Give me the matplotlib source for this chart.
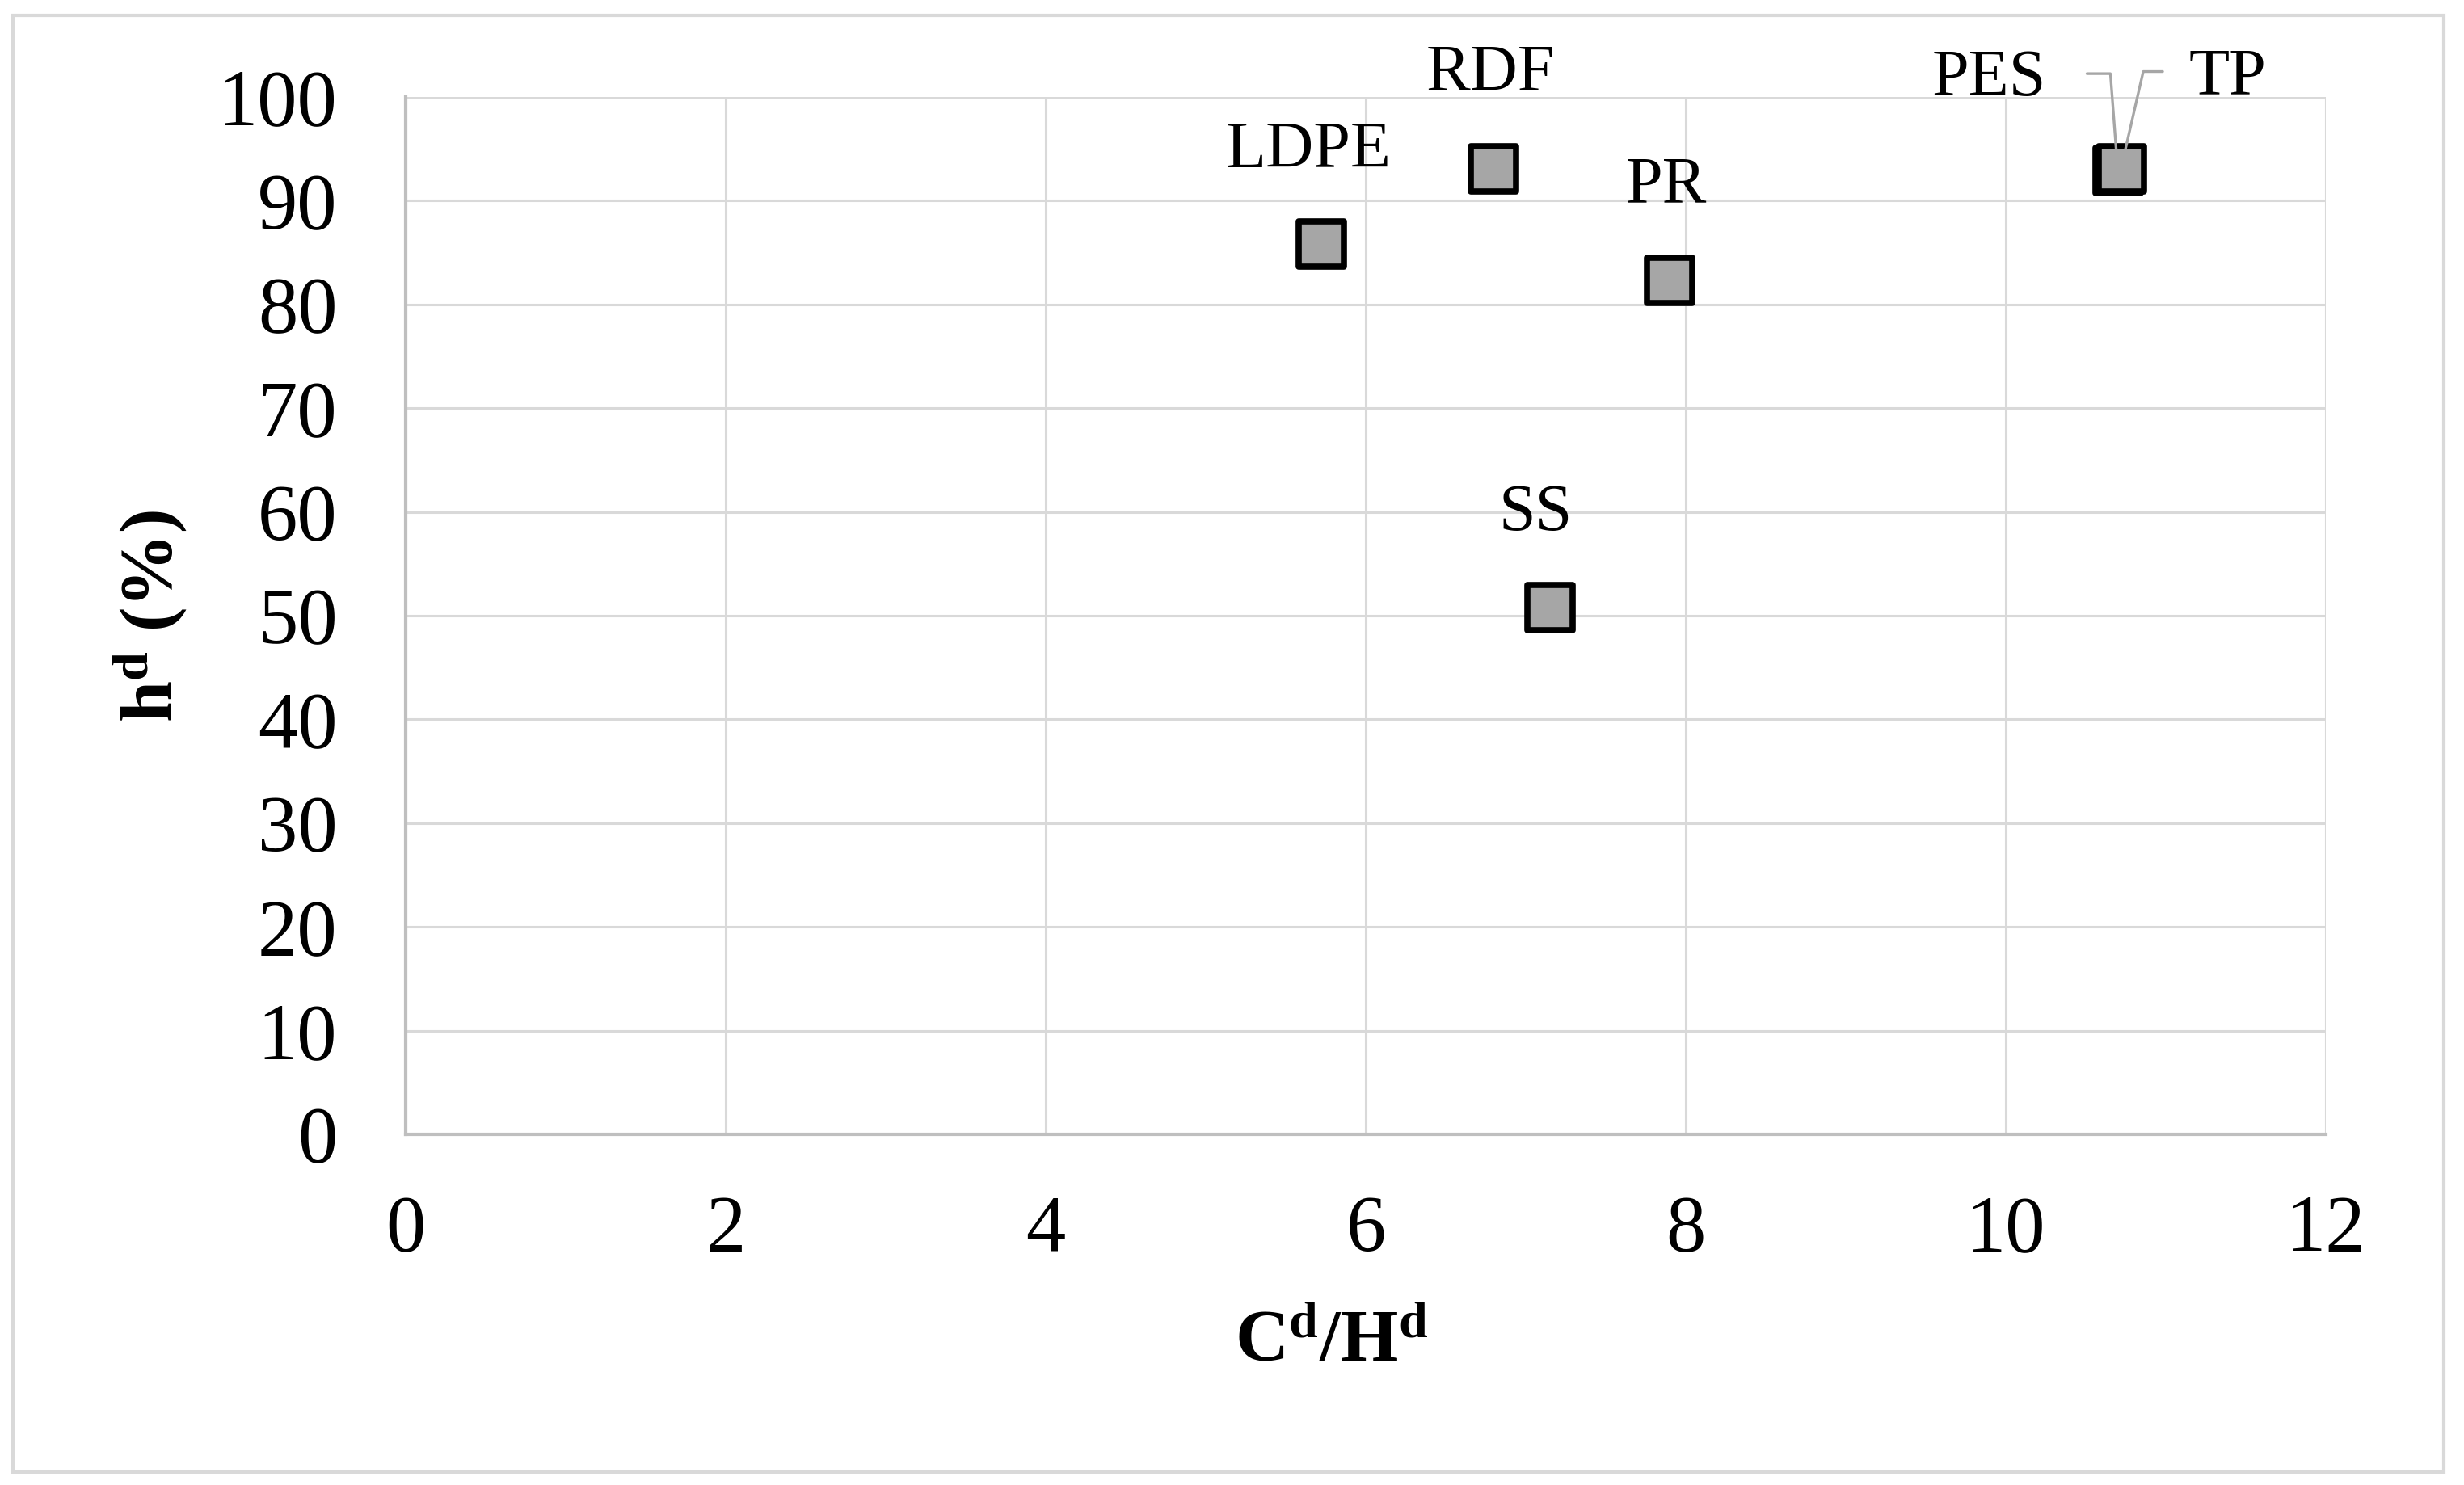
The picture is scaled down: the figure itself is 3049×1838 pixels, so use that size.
import matplotlib
matplotlib.use("Agg")
import matplotlib.pyplot as plt
from matplotlib.patches import Rectangle

# ---- data ----
labels = ["LDPE", "RDF", "PR", "SS", "PES", "TP"]
c_h = [5.72, 6.80, 7.90, 7.15, 10.70, 10.72]
h_d = [85.8, 93.1, 82.3, 50.8, 92.9, 93.1]
x_ticks = [0, 2, 4, 6, 8, 10, 12]
y_ticks = [0, 10, 20, 30, 40, 50, 60, 70, 80, 90, 100]

# label offsets in points (style)
offsets = {"LDPE": (-11, 83), "RDF": (-3, 84), "PR": (-3, 84), "SS": (-13, 83),
           "PES": (-115, 81), "TP": (95, 81)}

plt.rcParams["font.family"] = ["Liberation Serif", "DejaVu Serif"]
plt.rcParams["mathtext.fontset"] = "custom"
plt.rcParams["mathtext.rm"] = "Liberation Serif"
plt.rcParams["mathtext.bf"] = "Liberation Serif:bold"
plt.rcParams["mathtext.it"] = "Liberation Serif:italic"

fig = plt.figure(figsize=(30.49, 18.38), dpi=100)
ax = fig.add_axes([502 / 3049, 1 - 1404 / 1838, (2878 - 502) / 3049, (1404 - 120) / 1838])

# outer border
fig.patches.append(Rectangle((16 / 3049, 1 - 1822 / 1838), (3024 - 16) / 3049, (1822 - 19) / 1838,
                             transform=fig.transFigure, fill=False, edgecolor="#D9D9D9", linewidth=3))

ax.set_xlim(0, 12)
ax.set_ylim(0, 100)
ax.set_xticks(x_ticks)
ax.set_yticks(y_ticks)
ax.grid(True, color="#D9D9D9", linewidth=2.2)
ax.set_axisbelow(True)
for s in ["top", "right"]:
    ax.spines[s].set_visible(False)
for s in ["left", "bottom"]:
    ax.spines[s].set_color("#BFBFBF")
    ax.spines[s].set_linewidth(3)
ax.tick_params(axis="both", length=0, labelsize=71, colors="black")
ax.tick_params(axis="x", pad=54)
ax.tick_params(axis="y", pad=61)

ax.scatter(c_h, h_d, marker="s", s=41 ** 2, facecolor="#A6A6A6", edgecolor="black",
           linewidth=5.5, zorder=3, clip_on=False)

for lab, x, y in zip(labels, c_h, h_d):
    dx, dy = offsets[lab]
    if lab == "PES":
        ax.annotate(lab, xy=(x, y), xytext=(dx, dy), textcoords="offset points",
                    ha="center", va="center", fontsize=59, zorder=5,
                    arrowprops=dict(arrowstyle="-", color="#A6A6A6", lw=2.4,
                                    connectionstyle="arc,angleA=0,armA=29,angleB=90,armB=0,rad=0",
                                    relpos=(1.36, 0.6), shrinkA=0, shrinkB=14))
    elif lab == "TP":
        ax.annotate(lab, xy=(x, y), xytext=(dx, dy), textcoords="offset points",
                    ha="center", va="center", fontsize=59, zorder=5,
                    arrowprops=dict(arrowstyle="-", color="#A6A6A6", lw=2.4,
                                    connectionstyle="arc,angleA=180,armA=24,angleB=90,armB=0,rad=0",
                                    relpos=(-0.34, 0.6), shrinkA=0, shrinkB=14))
    else:
        ax.annotate(lab, xy=(x, y), xytext=(dx, dy), textcoords="offset points",
                    ha="center", va="center", fontsize=59, zorder=5)

ax.set_xlabel(r"C$^{\mathbf{d}}$/H$^{\mathbf{d}}$", fontsize=66, fontweight="bold")
ax.set_ylabel(r"h$^{\mathbf{d}}$ (%)", fontsize=66, fontweight="bold")
ax.xaxis.set_label_coords(0.482, -0.2015)
ax.yaxis.set_label_coords(-0.133, 0.50)
ax.xaxis.label.set_va("center")
ax.yaxis.label.set_va("center")

fig.savefig("out.png", dpi=100, facecolor="white")
